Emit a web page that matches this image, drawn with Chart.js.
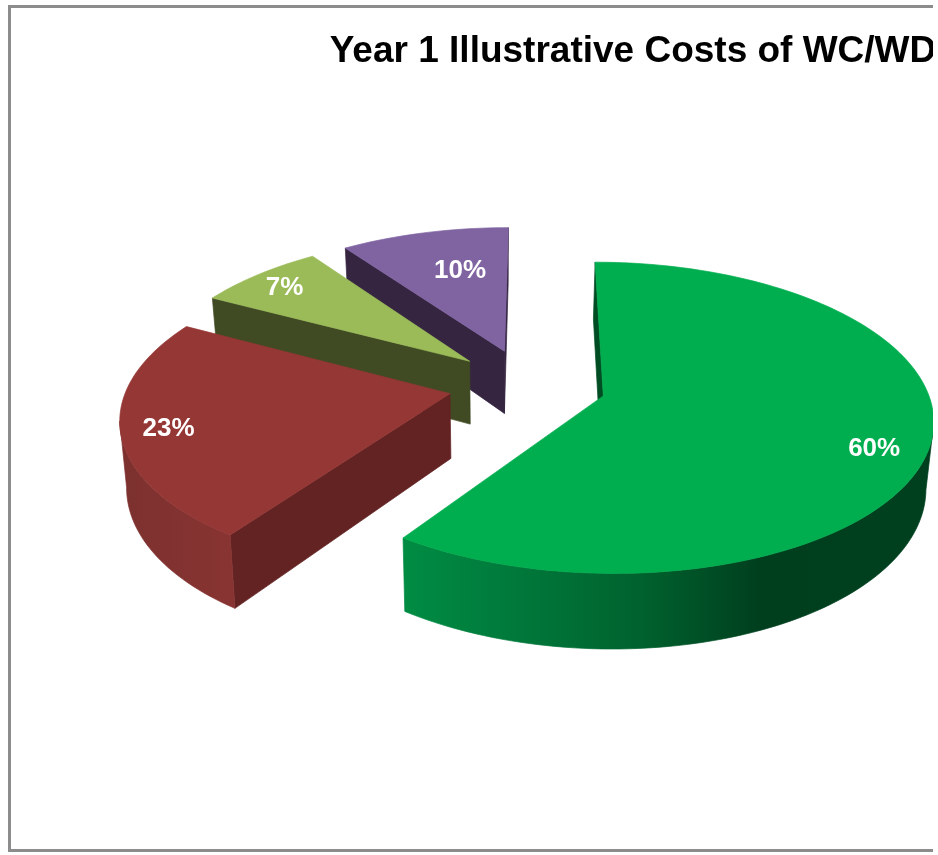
<!DOCTYPE html>
<html>
<head>
<meta charset="utf-8">
<title>Year 1 Illustrative Costs of WC/WD</title>
<script src="https://cdn.jsdelivr.net/npm/chart.js@4"></script>
<style>
    html, body { margin: 0; padding: 0; background: #fff; overflow: hidden; }
    #clip { position: absolute; left: 0; top: 0; width: 933px; height: 855px; overflow: hidden; }
    #frame { position: absolute; left: 8px; top: 5px; width: 1300px; height: 841px; border: 3px solid #8c8c8c; }
    #myChart { position: absolute; left: 0; top: 0; }
</style>
</head>
<body>
<div id="clip">
    <div id="frame"></div>
    <canvas id="myChart" width="1266" height="855"></canvas>
</div>
<script>
// Chart data
const chartTitle = 'Year 1 Illustrative Costs of WC/WD';
const sliceLabels = ['60%', '23%', '7%', '10%'];
const sliceValues = [59.6, 23.2, 7.4, 9.8];

// Slice colours
const topColors = ['#00ae4f', '#953735', '#9bbb59', '#8064a2'];
const edgeColors = ['#004d24', '#622322', '#404a23', '#352540'];
const wallStops = [
    [[403, '#008c43'], [520, '#00783a'], [640, '#00622e'], [760, '#003f1e'], [933, '#00401f']],
    [[120, '#7c312f'], [235, '#883432']],
    [[200, '#404a23'], [320, '#404a23']],
    [[340, '#352540'], [510, '#352540']],
];
// where each percentage sits: share of the radius, and degrees off the slice middle
const labelReach = [0.85, 0.86, 0.85, 0.645];
const labelTurn = [5.5, -1.5, -1, 3];

// Camera used to tilt the flat pie
const camX = 537;
const camK = 1084;
const horizon = -687;
const tilt = 0.141;
const radiusX = 326;
const panU = -0.03;
const panV = -0.08;
const depth = 65;
const squeeze = 0.018;
const squeezeX = 500;

const project = (u, v) => {
    const w = 1 - tilt * (v + panV);
    return {
        x: camX + radiusX * (u + panU) / w,
        y: horizon + camK / w,
        w: w,
    };
};

const lower = (p) => ({
    x: p.x + (squeezeX - p.x) * squeeze,
    y: p.y + depth / p.w,
});

// Walk round one arc element of the pie and return its outline on screen
const outline = (arc) => {
    const { startAngle, endAngle, outerRadius } = arc.getProps(['startAngle', 'endAngle', 'outerRadius']);
    const mid = (startAngle + endAngle) / 2;
    const push = arc.options.offset / outerRadius;
    const apexU = Math.cos(mid) * push;
    const apexV = Math.sin(mid) * push;
    const points = [project(apexU, apexV)];
    const steps = Math.ceil((endAngle - startAngle) * 40);
    for (let i = 0; i <= steps; i++) {
        const a = startAngle + (endAngle - startAngle) * i / steps;
        points.push(project(apexU + Math.cos(a), apexV + Math.sin(a)));
    }
    return { points, mid, apexU, apexV };
};

const fillPath = (ctx, points, color) => {
    ctx.beginPath();
    points.forEach((p, i) => (i ? ctx.lineTo(p.x, p.y) : ctx.moveTo(p.x, p.y)));
    ctx.closePath();
    ctx.fillStyle = color;
    ctx.strokeStyle = color;
    ctx.lineWidth = 0.7;
    ctx.fill();
    ctx.stroke();
};

const tiltedPie = {
    id: 'tiltedPie',
    beforeDatasetsDraw(chart) {
        const ctx = chart.ctx;
        const arcs = chart.getDatasetMeta(0).data;
        ctx.save();
        // back slices first
        for (let n = arcs.length - 1; n >= 0; n--) {
            const { points } = outline(arcs[n]);
            const last = points.length - 1;
            const stops = wallStops[n];
            const left = stops[0][0];
            const right = stops[stops.length - 1][0];
            const wall = ctx.createLinearGradient(left, 0, right, 0);
            stops.forEach(([x, c]) => wall.addColorStop((x - left) / (right - left), c));

            // straight cut faces, only when turned towards the viewer
            if (points[1].x < points[0].x) {
                fillPath(ctx, [points[0], points[1], lower(points[1]), lower(points[0])], edgeColors[n]);
            }
            if (points[0].x < points[last].x) {
                fillPath(ctx, [points[last], points[0], lower(points[0]), lower(points[last])], edgeColors[n]);
            }
            // outer rim in one piece
            const rim = points.slice(1).filter((p, i, all) =>
                (all[i + 1] && all[i + 1].x < p.x) || (all[i - 1] && p.x < all[i - 1].x));
            if (rim.length > 1) {
                fillPath(ctx, rim.concat(rim.map(lower).reverse()), wall);
            }
            fillPath(ctx, points, topColors[n]);
        }

        ctx.fillStyle = '#fff';
        ctx.font = 'bold 26px "Liberation Sans", Arial, sans-serif';
        ctx.textAlign = 'center';
        ctx.textBaseline = 'middle';
        arcs.forEach((arc, n) => {
            const { mid, apexU, apexV } = outline(arc);
            const a = mid + labelTurn[n] * Math.PI / 180;
            const p = project(apexU + Math.cos(a) * labelReach[n], apexV + Math.sin(a) * labelReach[n]);
            ctx.fillText(sliceLabels[n], p.x, p.y);
        });
        ctx.restore();
        return false;
    },
};

new Chart(document.getElementById('myChart').getContext('2d'), {
    type: 'pie',
    plugins: [tiltedPie],
    data: {
        labels: sliceLabels,
        datasets: [{
            data: sliceValues,
            backgroundColor: topColors,
            borderWidth: 0,
            offset: 84,
        }],
    },
    options: {
        responsive: false,
        animation: false,
        devicePixelRatio: 1,
        rotation: 0,
        layout: { padding: 0 },
        plugins: {
            legend: { display: false },
            tooltip: { enabled: false },
            title: {
                display: true,
                text: chartTitle,
                color: '#000',
                font: { family: '"Liberation Sans", Arial, sans-serif', size: 37, weight: 'bold' },
                padding: { top: 30, bottom: 10 },
            },
        },
    },
});
</script>
</body>
</html>
